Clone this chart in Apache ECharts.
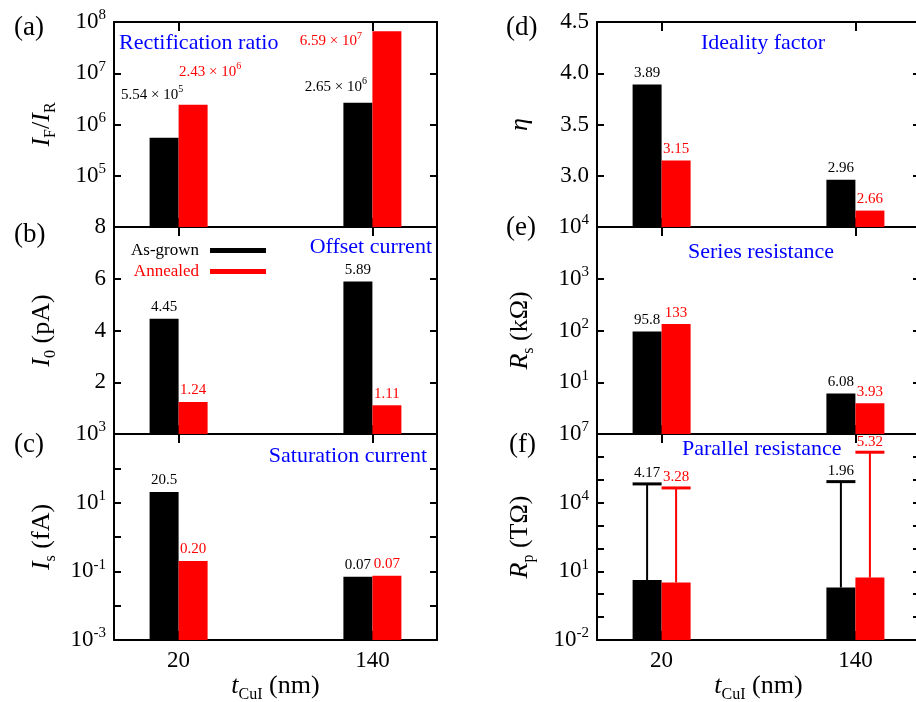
<!DOCTYPE html>
<html><head><meta charset="utf-8">
<script src="https://cdn.jsdelivr.net/npm/echarts@6/dist/echarts.min.js"></script>
<style>html,body{margin:0;padding:0;background:#fff}#c{width:916px;height:702px}</style>
</head><body><div id="c"></div>
<script>
// ---------- data ----------
const categories = [20, 140];              // t_CuI (nm)
const xTickLabels = ['20', '140'];
const seriesNames = ['As-grown', 'Annealed'];

// (a) rectification ratio
const ratioGrown = [5.54e5, 2.65e6];
const ratioAnnealed = [2.43e6, 6.59e7];
const ratioGrownText = ['{n|5.54 × 10}{sup|5}', '{n|2.65 × 10}{sup|6}'];
const ratioAnnealedText = ['{n|2.43 × 10}{sup|6}', '{n|6.59 × 10}{sup|7}'];
// (b) offset current (pA)
const offsetGrown = [4.45, 5.89];
const offsetAnnealed = [1.24, 1.11];
const offsetGrownText = ['4.45', '5.89'];
const offsetAnnealedText = ['1.24', '1.11'];
// (c) saturation current (fA)
const satGrown = [20.5, 0.07];
const satAnnealed = [0.20, 0.074];
const satGrownText = ['20.5', '0.07'];
const satAnnealedText = ['0.20', '0.07'];
// (d) ideality factor
const idealGrown = [3.89, 2.96];
const idealAnnealed = [3.15, 2.66];
const idealGrownText = ['3.89', '2.96'];
const idealAnnealedText = ['3.15', '2.66'];
// (e) series resistance (kOhm)
const seriesResGrown = [95.8, 6.08];
const seriesResAnnealed = [133, 3.93];
const seriesResGrownText = ['95.8', '6.08'];
const seriesResAnnealedText = ['133', '3.93'];
// (f) parallel resistance (TOhm) with upper error
const parResGrown = [4.17, 1.96];
const parResAnnealed = [3.28, 5.32];
const parResGrownUpper = [6.6e4, 8.3e4];
const parResAnnealedUpper = [4.4e4, 1.6e6];
const parResGrownText = ['4.17', '1.96'];
const parResAnnealedText = ['3.28', '5.32'];

// ---------- styles ----------
const FONT = 'Liberation Serif';
const BLACK = '#000000', RED = '#ff0000', BLUE = '#0000ff';
const BW = 29;
const ratioGrownOffset = [[-12, -29], [-22, -2]];
const ratioAnnealedOffset = [[17, -19], [-56, 24]];

const nameRich = {
  n: {fontFamily: FONT, fontSize: 26, lineHeight: 34, color: BLACK},
  i: {fontFamily: FONT, fontSize: 26, lineHeight: 34, fontStyle: 'italic', color: BLACK},
  sub: {fontFamily: FONT, fontSize: 16, lineHeight: 16, verticalAlign: 'bottom', color: BLACK}
};
const tickRich = {
  n: {fontFamily: FONT, fontSize: 23, lineHeight: 28, color: BLACK},
  sup: {fontFamily: FONT, fontSize: 15, lineHeight: 15, verticalAlign: 'top', color: BLACK}
};

const L = 114, R = 597, W = 323;
const tops = [22, 227, 434], heights = [205, 207, 206];

const panels = [
  {col: 0, row: 0, y: {type: 'log', min: 1e4, max: 1e8, step: 1}, hideMin: true,
   name: '{i|I}{sub|F}{n|/}{i|I}{sub|R}', black: ratioGrown, red: ratioAnnealed,
   bt: ratioGrownText, rt: ratioAnnealedText, bo: ratioGrownOffset, ro: ratioAnnealedOffset},
  {col: 0, row: 1, y: {type: 'value', min: 0, max: 8, interval: 2}, hideMin: true,
   name: '{i|I}{sub|0}{n| (pA)}', black: offsetGrown, red: offsetAnnealed,
   bt: offsetGrownText, rt: offsetAnnealedText},
  {col: 0, row: 2, y: {type: 'log', min: 1e-3, max: 1e3, step: 2}, hideMin: false,
   name: '{i|I}{sub|s}{n| (fA)}', black: satGrown, red: satAnnealed,
   bt: satGrownText, rt: satAnnealedText},
  {col: 1, row: 0, y: {type: 'value', min: 2.5, max: 4.5, interval: 0.5}, hideMin: true,
   name: '{i|η}', black: idealGrown, red: idealAnnealed,
   bt: idealGrownText, rt: idealAnnealedText},
  {col: 1, row: 1, y: {type: 'log', min: 1, max: 1e4, step: 1}, hideMin: true,
   name: '{i|R}{sub|s}{n| (kΩ)}', black: seriesResGrown, red: seriesResAnnealed,
   bt: seriesResGrownText, rt: seriesResAnnealedText},
  {col: 1, row: 2, y: {type: 'log', min: 1e-2, max: 1e7, step: 3}, hideMin: false,
   name: '{i|R}{sub|p}{n| (TΩ)}', black: parResGrown, red: parResAnnealed,
   bt: null, rt: null}
];

const grids = [], xAxes = [], yAxes = [], series = [];
const axisLine = {show: true, onZero: false, lineStyle: {color: BLACK, width: 2}};

panels.forEach((p, i) => {
  grids.push({left: p.col ? R : L, top: tops[p.row], width: W, height: heights[p.row],
    containLabel: false, outerBoundsMode: 'none'});
  const bottomRow = p.row === 2;
  const xBase = {gridIndex: i, type: 'value', min: -20, max: 180, splitLine: {show: false}, axisLine};
  xAxes.push(Object.assign({}, xBase, {
    position: 'bottom',
    axisTick: {show: true, inside: true, length: 9, customValues: categories, lineStyle: {width: 2, color: BLACK}},
    axisLabel: {show: bottomRow, customValues: categories, margin: 9, fontFamily: FONT, fontSize: 23, color: BLACK,
      formatter: v => { const k = categories.indexOf(v); return k >= 0 ? xTickLabels[k] : ''; }},
    name: bottomRow ? '{i|t}{sub|CuI}{n| (nm)}' : '', nameLocation: 'middle', nameGap: 26,
    nameTextStyle: {rich: nameRich}
  }));
  xAxes.push(Object.assign({}, xBase, {
    position: 'top',
    axisTick: {show: true, inside: true, length: 9, customValues: categories, lineStyle: {width: 2, color: BLACK}},
    axisLabel: {show: false, customValues: categories}
  }));
  const y = p.y;
  const isLog = y.type === 'log';
  const minE = isLog ? Math.round(Math.log10(y.min)) : 0;
  const yBase = {gridIndex: i, type: y.type, min: y.min, max: y.max, splitLine: {show: false}, axisLine,
    axisTick: {show: true, inside: true, length: 7, lineStyle: {width: 2, color: BLACK}}};
  if (isLog) { yBase.logBase = 10; yBase.splitNumber = Math.round(Math.log10(y.max / y.min)); yBase.startValue = y.min; }
  else { yBase.interval = y.interval; }
  yAxes.push(Object.assign({}, yBase, {
    position: 'left',
    axisLabel: {show: true, showMinLabel: !p.hideMin, margin: 8, color: BLACK, fontFamily: FONT, fontSize: 23, rich: tickRich,
      formatter: v => {
        if (isLog) {
          const e = Math.round(Math.log10(v));
          if ((e - minE) % y.step !== 0) return '';
          if (p.hideMin && e === minE) return '';
          return '{n|10}{sup|' + e + '}';
        }
        if (p.hideMin && Math.abs(v - y.min) < 1e-9) return '';
        return '{n|' + (y.interval < 1 ? v.toFixed(1) : String(v)) + '}';
      }},
    name: p.name, nameLocation: 'middle', nameRotate: 90, nameGap: p.col ? 60 : 55,
    nameTextStyle: {rich: nameRich}
  }));
  yAxes.push(Object.assign({}, yBase, {position: 'right', axisLabel: {show: false}}));

  const mk = (vals, texts, offs, color, name) => ({
    name, type: 'bar', xAxisIndex: 2 * i, yAxisIndex: 2 * i, barWidth: BW, barGap: '0%',
    itemStyle: {color}, z: 2,
    label: {show: !!texts, position: 'top', distance: 4, color, fontFamily: FONT, fontSize: 15,
      formatter: prm => texts ? texts[prm.dataIndex] : '',
      rich: {
        n: {fontFamily: FONT, fontSize: 15, lineHeight: 20, color},
        sup: {fontFamily: FONT, fontSize: 10, lineHeight: 10, verticalAlign: 'top', color}
      }},
    data: vals.map((v, k) => {
      const d = {value: [categories[k], v]};
      if (offs) d.label = {offset: offs[k]};
      return d;
    })
  });
  series.push(mk(p.black, p.bt, p.bo, BLACK, seriesNames[0]));
  series.push(mk(p.red, p.rt, p.ro, RED, seriesNames[1]));
});

// error bars for (f)
function errSeries(vals, upper, texts, color, dx, name) {
  return {
    type: 'custom', name, xAxisIndex: 10, yAxisIndex: 10, z: 3,
    data: vals.map((v, k) => [categories[k], v, upper[k], k]),
    renderItem: (params, api) => {
      const xv = api.value(0), lo = api.value(1), hi = api.value(2), k = api.value(3);
      const pLo = api.coord([xv, lo]), pHi = api.coord([xv, hi]);
      const cx = pLo[0] + dx;
      return {type: 'group', children: [
        {type: 'line', shape: {x1: cx, y1: pLo[1], x2: cx, y2: pHi[1]}, style: {stroke: color, lineWidth: 2}},
        {type: 'line', shape: {x1: cx - BW / 2, y1: pHi[1], x2: cx + BW / 2, y2: pHi[1]}, style: {stroke: color, lineWidth: 3}},
        {type: 'text', x: cx, y: pHi[1] - 3, style: {text: texts[k], fill: color, fontFamily: FONT, fontSize: 15,
          textAlign: 'center', textVerticalAlign: 'bottom'}}
      ]};
    }
  };
}
series.push(errSeries(parResGrown, parResGrownUpper, parResGrownText, BLACK, -BW / 2, 'errGrown'));
series.push(errSeries(parResAnnealed, parResAnnealedUpper, parResAnnealedText, RED, BW / 2, 'errAnnealed'));

const txt = (t, x, y, size, color, align) => ({type: 'text', x, y, z: 10,
  style: {text: t, fill: color, fontFamily: FONT, fontSize: size, textAlign: align || 'left', textVerticalAlign: 'middle'}});

const graphic = [
  txt('(a)', 14, 28, 27, BLACK), txt('(b)', 14, 235, 27, BLACK), txt('(c)', 14, 445, 27, BLACK),
  txt('(d)', 506, 28, 27, BLACK), txt('(e)', 506, 228, 27, BLACK), txt('(f)', 509, 445, 27, BLACK),
  txt('Rectification ratio', 119, 43, 22, BLUE), txt('Offset current', 432, 247, 22, BLUE, 'right'),
  txt('Saturation current', 427, 456, 22, BLUE, 'right'), txt('Ideality factor', 763, 43, 22, BLUE, 'center'),
  txt('Series resistance', 761, 252, 22, BLUE, 'center'), txt('Parallel resistance', 682, 449, 22, BLUE)
];

const chart = echarts.init(document.getElementById('c'), null, {renderer: 'canvas'});
chart.setOption({
  animation: false,
  backgroundColor: '#ffffff',
  textStyle: {fontFamily: FONT},
  grid: grids, xAxis: xAxes, yAxis: yAxes, series, graphic,
  legend: {left: 126, top: 237, orient: 'vertical', align: 'right', icon: 'rect', itemWidth: 56, itemHeight: 5,
    itemGap: 4, textStyle: {fontFamily: FONT, fontSize: 17, padding: [0, 6, 0, 0]},
    data: [{name: seriesNames[0], textStyle: {color: BLACK}}, {name: seriesNames[1], textStyle: {color: RED}}]}
});
</script></body></html>
